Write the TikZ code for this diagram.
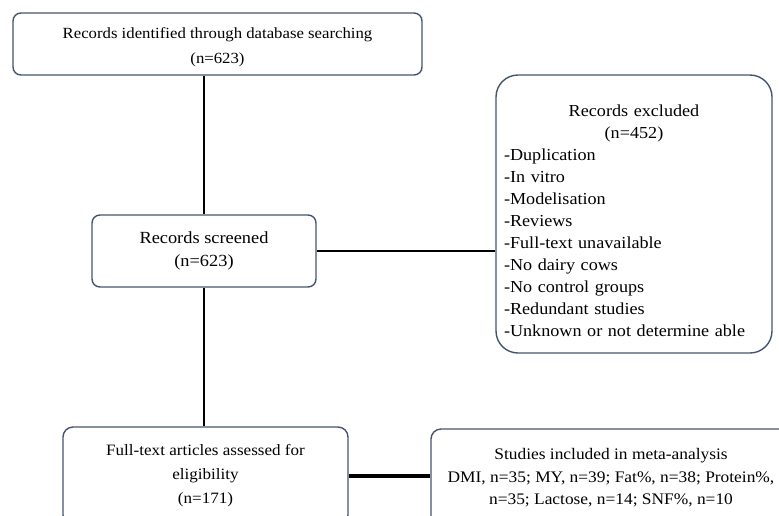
\documentclass[tikz,border=0pt]{standalone}
\usepackage{fontspec}
\setmainfont[FakeStretch=1.08]{Liberation Serif}
\usetikzlibrary{positioning, calc}
\definecolor{boxline}{RGB}{68,84,110}

\begin{document}
\begin{tikzpicture}[
    x=1pt, y=-1pt,
    font=\fontsize{16.5}{22}\selectfont,
    stage/.style={
        draw=boxline,
        rectangle,
        rounded corners=8pt,
        align=center,
        inner sep=0pt,
        line width=1.4pt
    },
    link/.style={
        draw=black,
        line width=2.5pt
    },
    boldlink/.style={
        draw=black,
        line width=3.6pt
    }
]

\useasboundingbox (0,0) rectangle (779,515);
\clip (0,0) rectangle (779,515);

% ============================================================
% Main column
% ============================================================

\node[stage, minimum width=409pt, minimum height=62pt,
      font=\fontsize{15.5}{25}\selectfont] (ident) at (217.5,44)
    {\rule{0pt}{18pt}Records identified through database searching\\(n=623)};

\node[stage, minimum width=224pt, minimum height=72pt,
      font=\fontsize{17}{23}\selectfont] (screen) at (204,251)
    {Records screened\\(n=623)};

\node[stage, rounded corners=10pt, minimum width=285pt, minimum height=98pt,
      font=\fontsize{15.8}{24}\selectfont] (full) at (205.5,476)
    {Full-text articles assessed for\\eligibility\\(n=171)};

% ============================================================
% Side boxes
% ============================================================

\node[stage, rounded corners=22pt, minimum width=276pt, minimum height=278pt,
      text width=260pt, align=left, font=\fontsize{16.8}{22}\selectfont] (excl) at (634,214)
    {\makebox[260pt]{\rule{0pt}{26pt}Records excluded}\\
     \makebox[260pt]{(n=452)}\\
     -Duplication\\
     -In vitro\\
     -Modelisation\\
     -Reviews\\
     -Full-text unavailable\\
     -No dairy cows\\
     -No control groups\\
     -Redundant studies\\
     -Unknown or not determine able};

\node[stage, rounded corners=10pt, minimum width=360pt, minimum height=98pt,
      font=\fontsize{16.1}{22.5}\selectfont] (incl) at (611,478)
    {Studies included in meta-analysis\\
     DMI, n=35; MY, n=39; Fat\%, n=38; Protein\%,\\
     n=35; Lactose, n=14; SNF\%, n=10};

% ============================================================
% Connectors
% ============================================================

\draw[link] (ident.south -| screen.north) -- (screen.north);
\draw[link] (screen.south) -- (screen.south |- full.north);
\draw[link] (screen.east) -- (screen.east -| excl.west);
\draw[boldlink] (full.east) -- (full.east -| incl.west);
\end{tikzpicture}
\end{document}
